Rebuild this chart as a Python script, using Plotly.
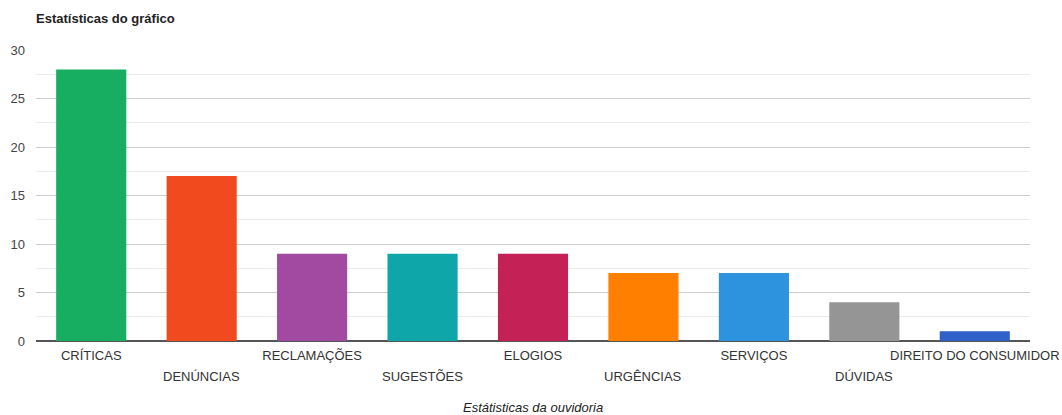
import plotly.graph_objects as go

# Ombudsman statistics by category
categorias = ["CRÍTICAS", "DENÚNCIAS", "RECLAMAÇÕES", "SUGESTÕES", "ELOGIOS",
              "URGÊNCIAS", "SERVIÇOS", "DÚVIDAS", "DIREITO DO CONSUMIDOR"]
valores = [28, 17, 9, 9, 9, 7, 7, 4, 1]
cores = ["#18ae61", "#f04a1e", "#a24aa1", "#0fa6a9", "#c42257",
         "#ff7f00", "#2d93de", "#959595", "#2f62c8"]
y_ticks = [0, 5, 10, 15, 20, 25, 30]

# alternate labels onto two rows so long names don't collide:
# even positions use the axis tick labels, odd positions go on a lower row
rotulos = [c if i % 2 == 0 else "" for i, c in enumerate(categorias)]
segunda_linha = [c for i, c in enumerate(categorias) if i % 2 == 1]

fig = go.Figure(go.Bar(
    x=categorias,
    y=valores,
    marker=dict(color=cores, line=dict(width=0)),
    hoverinfo="x+y",
))

anotacoes = [
    dict(
        text=c, xref="x", yref="paper", x=c, y=0,
        xanchor="center", yanchor="middle", yshift=-35,
        showarrow=False, font=dict(size=13, color="#333333"),
    )
    for c in segunda_linha
]
anotacoes.append(dict(
    text="<i>Estátisticas da ouvidoria</i>",
    xref="paper", yref="paper", x=0.5, y=0,
    xanchor="center", yanchor="middle", yshift=-66,
    showarrow=False,
    font=dict(size=13, color="#222222"),
))

fig.update_layout(
    width=1062,
    height=415,
    margin=dict(l=36, r=32, t=50, b=74),
    paper_bgcolor="white",
    plot_bgcolor="white",
    font=dict(family="Liberation Sans, Arial, sans-serif", size=13, color="#444444"),
    bargap=0.365,
    showlegend=False,
    title=dict(
        text="<b>Estatísticas do gráfico</b>",
        x=0, xref="container", xanchor="left", pad=dict(l=36),
        y=1 - 18 / 415, yanchor="middle",
        font=dict(size=13, color="#222222"),
    ),
    xaxis=dict(
        tickmode="array",
        tickvals=categorias,
        ticktext=rotulos,
        tickangle=0,
        ticklabelstandoff=5,
        showgrid=False,
        showline=False,
        ticks="",
        automargin=False,
        tickfont=dict(size=13, color="#333333"),
    ),
    yaxis=dict(
        range=[0, 30],
        tickvals=y_ticks,
        showgrid=True,
        gridcolor="#cccccc",
        gridwidth=1,
        zeroline=True,
        zerolinecolor="#555555",
        zerolinewidth=2,
        showline=False,
        ticks="",
        ticklabelstandoff=10,
        automargin=False,
        tickfont=dict(size=13, color="#444444"),
        minor=dict(dtick=2.5, showgrid=True, gridcolor="#ebebeb", gridwidth=1),
    ),
    annotations=anotacoes,
)

fig.write_html("out.html")
